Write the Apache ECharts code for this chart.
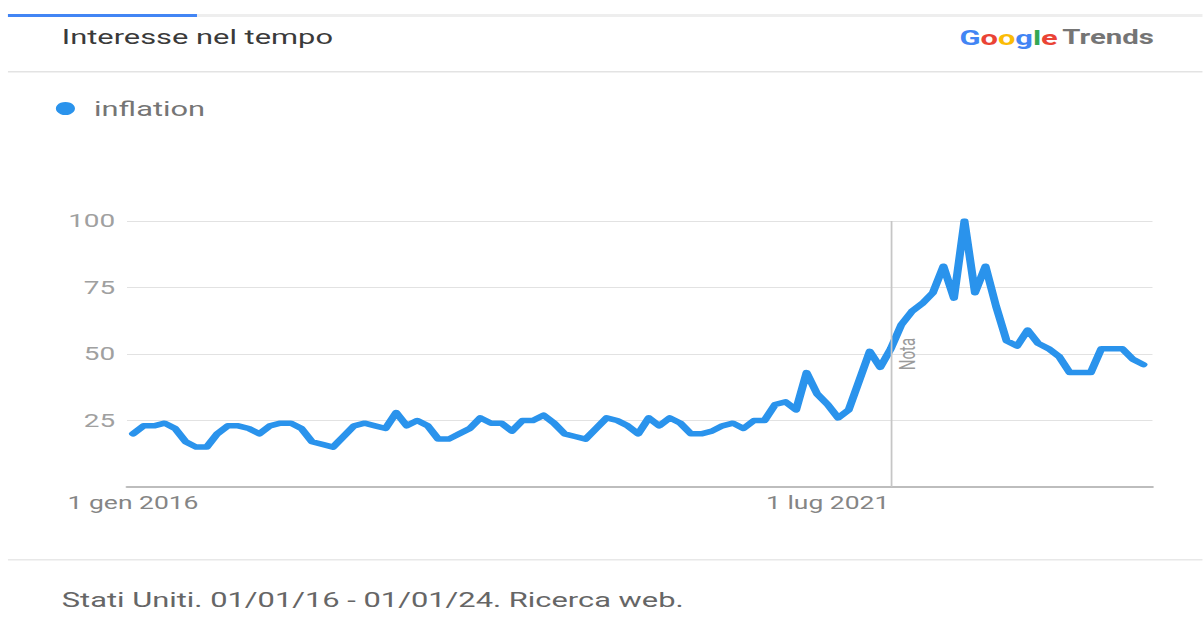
<!DOCTYPE html>
<html>
<head>
<meta charset="utf-8">
<script src="https://cdn.jsdelivr.net/npm/echarts@6/dist/echarts.min.js"></script>
<style>
html,body{margin:0;padding:0;background:#fff;overflow:hidden;}
#wrap{width:1203px;height:618px;overflow:hidden;}
#chart{width:818.4px;height:618px;transform:scaleX(1.47);transform-origin:0 0;}
</style>
</head>
<body>
<div id="wrap"><div id="chart"></div></div>
<script>
// Monthly categories Jan 2016 .. Jan 2024
const years = [2016, 2017, 2018, 2019, 2020, 2021, 2022, 2023, 2024];
const months = ['01','02','03','04','05','06','07','08','09','10','11','12'];
const categories = [];
years.forEach(y => months.forEach(m => { if (y < 2024 || m === '01') categories.push(y + '-' + m); }));

// Interest over time, "inflation" (US), one value per month
const inflation = [
  20, 23, 23, 24, 22, 17, 15, 15, 20, 23, 23, 22,   // 2016
  20, 23, 24, 24, 22, 17, 16, 15, 19, 23, 24, 23,   // 2017
  22, 28, 23, 25, 23, 18, 18, 20, 22, 26, 24, 24,   // 2018
  21, 25, 25, 27, 24, 20, 19, 18, 22, 26, 25, 23,   // 2019
  20, 26, 23, 26, 24, 20, 20, 21, 23, 24, 22, 25,   // 2020
  25, 31, 32, 29, 43, 35, 31, 26, 29, 40, 51, 45,   // 2021
  52, 61, 66, 69, 73, 83, 71, 100, 73, 83, 68, 55,  // 2022
  53, 59, 54, 52, 49, 43, 43, 43, 52, 52, 52, 48,   // 2023
  46                                                // 2024
];

const tickCategories = ['2016-01', '2021-07'];
const tickLabels = ['1 gen 2016', '1 lug 2021'];
const yTicks = [25, 50, 75, 100];
const noteCategory = '2022-01';
const noteLabel = 'Nota';
const seriesName = 'inflation';

const FONT = 'Roboto, "Noto Sans", sans-serif';
const chart = echarts.init(document.getElementById('chart'), null, {renderer: 'svg'});

chart.setOption({
  backgroundColor: '#ffffff',
  animation: false,
  textStyle: {fontFamily: FONT},
  title: [
    {text: 'Interesse nel tempo', left: 37, top: 21,
     textStyle: {fontFamily: FONT, fontSize: 21, fontWeight: 'normal', color: '#3a3a3a'}},
    {text: '{b|G}{r|o}{y|o}{b|g}{g|l}{r|e}{t|Trends}', right: 28, top: 22,
     textStyle: {rich: {
       b: {color: '#4285F4', fontSize: 21, fontFamily: FONT, fontWeight: 'bold'},
       r: {color: '#EA4335', fontSize: 21, fontFamily: FONT, fontWeight: 'bold'},
       y: {color: '#FBBC05', fontSize: 21, fontFamily: FONT, fontWeight: 'bold'},
       g: {color: '#34A853', fontSize: 21, fontFamily: FONT, fontWeight: 'bold'},
       t: {color: '#757575', fontSize: 20, fontFamily: FONT, padding: [0, 0, 0, 3]}
     }}},
    {text: 'Stati Uniti. 01/01/16 - 01/01/24. Ricerca web.', left: 37, top: 584,
     textStyle: {fontFamily: FONT, fontSize: 21, fontWeight: 'normal', color: '#666666'}}
  ],
  graphic: [
    {type: 'rect', shape: {x: 5.4, y: 14, width: 813, height: 3}, style: {fill: '#eeeeee'}, silent: true},
    {type: 'rect', shape: {x: 5.4, y: 14, width: 128.6, height: 3}, style: {fill: '#4285F4'}, silent: true},
    {type: 'rect', shape: {x: 5.4, y: 71, width: 813, height: 1.5}, style: {fill: '#e3e3e3'}, silent: true},
    {type: 'rect', shape: {x: 5.4, y: 559, width: 813, height: 1.5}, style: {fill: '#e8e8e8'}, silent: true}
  ],
  legend: {
    data: [seriesName], left: 33, top: 93, icon: 'circle', itemWidth: 13, itemHeight: 13,
    textStyle: {fontFamily: FONT, fontSize: 21, color: '#757575', padding: [0, 0, 0, 8]},
    selectedMode: false
  },
  grid: [
    {left: 90.5, right: 40.2, top: 221, bottom: 131},
    {left: 86.4, right: 34, top: 221, bottom: 131}
  ],
  xAxis: [
    {type: 'category', gridIndex: 0, data: categories, boundaryGap: false,
     axisLine: {show: false}, axisTick: {show: false}, splitLine: {show: false},
     axisLabel: {
       interval: (idx, val) => tickCategories.indexOf(val) >= 0,
       formatter: (val) => { const k = tickCategories.indexOf(val); return k >= 0 ? tickLabels[k] : ''; },
       margin: 7, fontSize: 18, color: '#858585', fontFamily: FONT
     }},
    {type: 'value', gridIndex: 1, min: 0, max: 1,
     axisLine: {show: true, lineStyle: {color: '#bdbdbd', width: 2}},
     axisTick: {show: false}, axisLabel: {show: false}, splitLine: {show: false}}
  ],
  yAxis: [
    {type: 'value', gridIndex: 0, min: 0, max: 100, interval: 25, show: false, splitLine: {show: false}},
    {type: 'value', gridIndex: 1, min: 0, max: 100, interval: 25,
     axisLine: {show: false}, axisTick: {show: false},
     axisLabel: {margin: 8, fontSize: 19, color: '#a0a0a0', fontFamily: FONT,
       formatter: v => (yTicks.indexOf(v) >= 0 ? String(v) : '')},
     splitLine: {lineStyle: {color: '#e2e2e2', width: 1}}}
  ],
  series: [{
    name: seriesName, type: 'line', xAxisIndex: 0, yAxisIndex: 0,
    data: inflation, symbol: 'none', smooth: false,
    itemStyle: {color: '#2a93ec'},
    lineStyle: {color: '#2a93ec', width: 5.5, cap: 'round', join: 'round'},
    markLine: {
      silent: true, symbol: 'none', animation: false,
      lineStyle: {color: '#c6c6c6', width: 1.2, type: 'solid'},
      label: {show: true, formatter: noteLabel, position: 'insideMiddleBottom', color: '#9a9a9a',
              fontSize: 15, fontFamily: FONT, distance: 4},
      data: [{xAxis: noteCategory}]
    },
    z: 3
  }]
});
</script>
</body>
</html>
